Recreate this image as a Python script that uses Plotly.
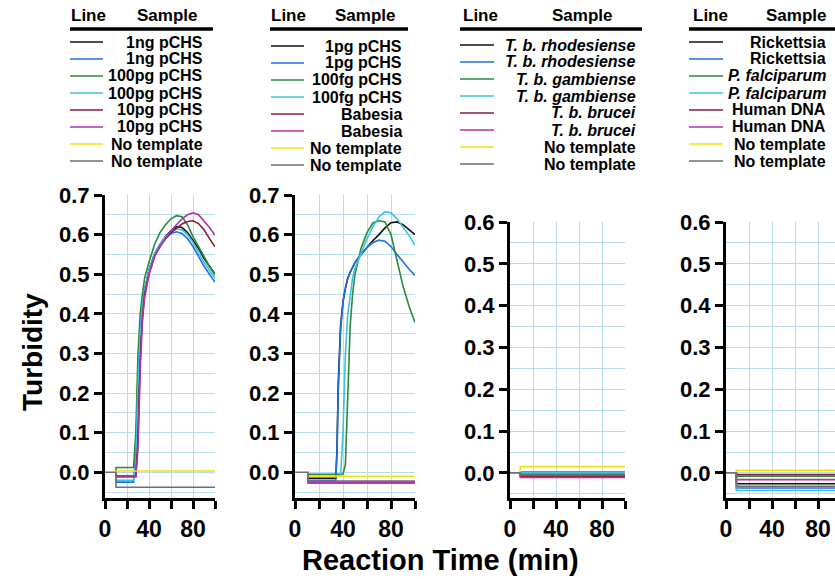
import plotly.graph_objects as go

W, H = 835, 579
FONT = "Liberation Sans, Arial, sans-serif"

# line colours, same order in every panel (legend rows 1..8)
colors = ["#111111", "#1f6fe8", "#2a8a3a", "#3cc4dc", "#8e1838", "#b030b0", "#f0e010", "#6e6e7e"]

labels_1 = ["1ng pCHS", "1ng pCHS", "100pg pCHS", "100pg pCHS",
            "10pg pCHS", "10pg pCHS", "No template", "No template"]
labels_2 = ["1pg pCHS", "1pg pCHS", "100fg pCHS", "100fg pCHS",
            "Babesia", "Babesia", "No template", "No template"]
labels_3 = ["<i>T. b. rhodesiense</i>", "<i>T. b. rhodesiense</i>",
            "<i>T. b. gambiense</i>", "<i>T. b. gambiense</i>",
            "<i>T. b. brucei</i>", "<i>T. b. brucei</i>", "No template", "No template"]
labels_4 = ["Rickettsia", "Rickettsia", "<i>P. falciparum</i>", "<i>P. falciparum</i>",
            "Human DNA", "Human DNA", "No template", "No template"]

# ---- panel 1 : pCHS dilutions 1ng..10pg
t1 = [10, 10, 26, 28, 30, 32, 34, 36, 40, 45, 50, 55, 60, 65, 70, 75, 80, 85, 90, 95, 100]
p1_black = [0, -0.01, -0.01, -0.01, 0.12, 0.32, 0.41, 0.46, 0.51, 0.55, 0.575, 0.595, 0.61, 0.62, 0.618, 0.605, 0.585, 0.565, 0.54, 0.52, 0.50]
p1_blue = [0, -0.025, -0.025, 0.05, 0.25, 0.36, 0.42, 0.46, 0.51, 0.55, 0.575, 0.59, 0.603, 0.607, 0.603, 0.59, 0.57, 0.545, 0.52, 0.50, 0.48]
p1_green = [0, 0.012, 0.012, 0.10, 0.30, 0.40, 0.45, 0.49, 0.53, 0.575, 0.605, 0.625, 0.64, 0.648, 0.645, 0.625, 0.595, 0.57, 0.545, 0.52, 0.50]
p1_cyan = [0, -0.02, -0.02, 0.02, 0.22, 0.35, 0.42, 0.46, 0.51, 0.55, 0.575, 0.595, 0.607, 0.614, 0.612, 0.60, 0.58, 0.555, 0.53, 0.51, 0.49]
p1_red = [0, -0.01, -0.01, -0.01, 0.08, 0.28, 0.39, 0.45, 0.50, 0.545, 0.57, 0.59, 0.605, 0.617, 0.627, 0.633, 0.635, 0.628, 0.612, 0.59, 0.569]
p1_magenta = [0, -0.012, -0.012, -0.012, 0.06, 0.26, 0.38, 0.44, 0.50, 0.545, 0.57, 0.59, 0.61, 0.625, 0.64, 0.65, 0.655, 0.65, 0.635, 0.618, 0.598]
p1_levels = {6: 0.003, 7: -0.038}          # no-template baselines

# ---- panel 2 : 1pg / 100fg pCHS, Babesia
t2 = [11, 11, 30, 34, 35, 36, 38, 40, 42, 44, 46, 48, 50, 55, 60, 65, 70, 75, 80, 85, 90, 95, 100]
p2_black = [0, -0.015, -0.015, -0.015, 0.06, 0.22, 0.37, 0.43, 0.465, 0.49, 0.505, 0.52, 0.53, 0.55, 0.568, 0.585, 0.60, 0.617, 0.63, 0.632, 0.625, 0.613, 0.60]
p2_blue = [0, -0.02, -0.02, -0.02, 0.05, 0.20, 0.36, 0.43, 0.465, 0.49, 0.505, 0.52, 0.53, 0.55, 0.568, 0.58, 0.586, 0.583, 0.57, 0.55, 0.53, 0.513, 0.497]
p2_green = [0, -0.005, -0.005, -0.005, -0.005, -0.005, -0.005, -0.005, 0.02, 0.20, 0.37, 0.45, 0.50, 0.565, 0.605, 0.63, 0.635, 0.632, 0.60, 0.535, 0.47, 0.42, 0.378]
p2_cyan = [0, -0.01, -0.01, -0.01, -0.01, -0.01, -0.01, 0.10, 0.30, 0.40, 0.45, 0.49, 0.515, 0.555, 0.59, 0.62, 0.645, 0.658, 0.655, 0.64, 0.62, 0.598, 0.573]
p2_levels = {4: -0.027, 5: -0.025, 6: -0.01, 7: -0.022}

# ---- panels 3 and 4 : specificity, all flat
p3_levels = {0: -0.003, 1: 0.002, 2: -0.005, 3: 0.0, 4: -0.008, 5: -0.011, 6: 0.015, 7: -0.005}
p4_levels = {0: -0.026, 1: -0.036, 2: -0.008, 3: -0.042, 4: -0.004, 5: -0.016, 6: 0.006, 7: -0.032}

panels = [
    dict(curves={0: (t1, p1_black), 1: (t1, p1_blue), 2: (t1, p1_green), 3: (t1, p1_cyan),
                 4: (t1, p1_red), 5: (t1, p1_magenta)},
         levels=p1_levels, start=10, labels=labels_1,
         dom=(105, 215), top=195, yr=(-0.065, 0.7), xmax=100,
         leg=dict(x0=70, x1=103, xr=205, rule=(70, 213), line_c=88, samp=167, samp_anchor="center", y0=42)),
    dict(curves={0: (t2, p2_black), 1: (t2, p2_blue), 2: (t2, p2_green), 3: (t2, p2_cyan)},
         levels=p2_levels, start=11, labels=labels_2,
         dom=(295, 415), top=195, yr=(-0.065, 0.7), xmax=100,
         leg=dict(x0=271, x1=304, xr=404, rule=(270, 408), line_c=288, samp=365, samp_anchor="center", y0=46)),
    dict(curves={}, levels=p3_levels, start=9, labels=labels_3,
         dom=(510, 625), top=222, yr=(-0.06, 0.6), xmax=100,
         leg=dict(x0=460, x1=494, xr=638, rule=(460, 642), line_c=480, samp=582, samp_anchor="center", y0=45)),
    dict(curves={}, levels=p4_levels, start=9, labels=labels_4,
         dom=(726, 835), top=222, yr=(-0.06, 0.6), xmax=(835 - 726) / 1.15,
         leg=dict(x0=689, x1=723, xr=828, rule=(689, 835), line_c=710, samp=828, samp_anchor="right", y0=42)),
]

BOTTOM = 498
grid_c = "#b8dcea"
fig = go.Figure()
shapes, annotations = [], []

for k, p in enumerate(panels):
    n = "" if k == 0 else str(k + 1)
    xa, ya = "x" + n, "y" + n
    for i in range(8):
        if i in p["levels"]:
            v = p["levels"][i]
            if i == 7:
                xs, ys = [0, p["start"], p["start"], 100], [0, 0, v, v]
            else:
                xs, ys = [p["start"], p["start"], 100], [0, v, v]
        else:
            xs, ys = p["curves"][i]
        fig.add_trace(go.Scatter(x=xs, y=ys, mode="lines", xaxis=xa, yaxis=ya,
                                 line=dict(color=colors[i], width=1.6), showlegend=False,
                                 hoverinfo="skip"))

    fig.update_layout(**{
        "xaxis" + n: dict(domain=[p["dom"][0] / W, p["dom"][1] / W], range=[0, p["xmax"]],
                          anchor=ya, tickvals=[0, 20, 40, 60, 80, 100],
                          ticktext=["0", "", "40", "", "80", ""],
                          showgrid=True, gridcolor=grid_c, gridwidth=1, zeroline=False,
                          showline=True, linecolor="black", linewidth=3,
                          ticks="outside", ticklen=8, tickwidth=3, tickcolor="black",
                          tickfont=dict(family=FONT, size=23, color="black", weight="bold"),
                          automargin=False, fixedrange=True),
        "yaxis" + n: dict(domain=[1 - BOTTOM / H, 1 - p["top"] / H], range=list(p["yr"]),
                          anchor=xa, tick0=0, dtick=0.1, tickformat=".1f",
                          showgrid=True, gridcolor=grid_c, gridwidth=1, zeroline=False,
                          minor=dict(dtick=0.05, showgrid=True, gridcolor=grid_c, ticks=""),
                          showline=True, linecolor="black", linewidth=3,
                          ticks="outside", ticklen=8, tickwidth=3, tickcolor="black",
                          tickfont=dict(family=FONT, size=22, color="black", weight="bold"),
                          automargin=False, fixedrange=True),
    })

    # little legend table above each panel
    lg = p["leg"]
    shapes.append(dict(type="line", xref="paper", yref="paper",
                       x0=lg["rule"][0] / W, x1=lg["rule"][1] / W,
                       y0=1 - 29 / H, y1=1 - 29 / H, line=dict(color="black", width=3.5)))
    annotations.append(dict(text="<b>Line</b>", xref="paper", yref="paper",
                            x=lg["line_c"] / W, y=1 - 16 / H, xanchor="center", yanchor="middle",
                            showarrow=False, font=dict(family=FONT, size=17, color="black")))
    annotations.append(dict(text="<b>Sample</b>", xref="paper", yref="paper",
                            x=lg["samp"] / W, y=1 - 16 / H, xanchor=lg["samp_anchor"], yanchor="middle",
                            showarrow=False, font=dict(family=FONT, size=17, color="black")))
    for i, lab in enumerate(p["labels"]):
        yy = 1 - (lg["y0"] + i * 17) / H
        shapes.append(dict(type="line", xref="paper", yref="paper",
                           x0=lg["x0"] / W, x1=lg["x1"] / W, y0=yy, y1=yy,
                           line=dict(color=colors[i], width=1.6)))
        annotations.append(dict(text="<b>" + lab + "</b>", xref="paper", yref="paper",
                                x=lg["xr"] / W, y=yy, xanchor="right", yanchor="middle",
                                showarrow=False, font=dict(family=FONT, size=16, color="black")))

annotations.append(dict(text="<b>Turbidity</b>", xref="paper", yref="paper",
                        x=32 / W, y=1 - 352 / H, textangle=-90, showarrow=False,
                        xanchor="center", yanchor="middle",
                        font=dict(family=FONT, size=28, color="black")))
annotations.append(dict(text="<b>Reaction Time (min)</b>", xref="paper", yref="paper",
                        x=440 / W, y=1 - 560 / H, showarrow=False,
                        xanchor="center", yanchor="middle",
                        font=dict(family=FONT, size=29, color="black")))

fig.update_layout(width=W, height=H, margin=dict(l=0, r=0, t=0, b=0),
                  paper_bgcolor="white", plot_bgcolor="white",
                  shapes=shapes, annotations=annotations, showlegend=False)

# page body has an 8px default margin; drop it so the figure fills the window
fig.write_html("out.html", config={"displayModeBar": False},
               post_script="document.body.style.margin='0';document.body.style.overflow='hidden';")
